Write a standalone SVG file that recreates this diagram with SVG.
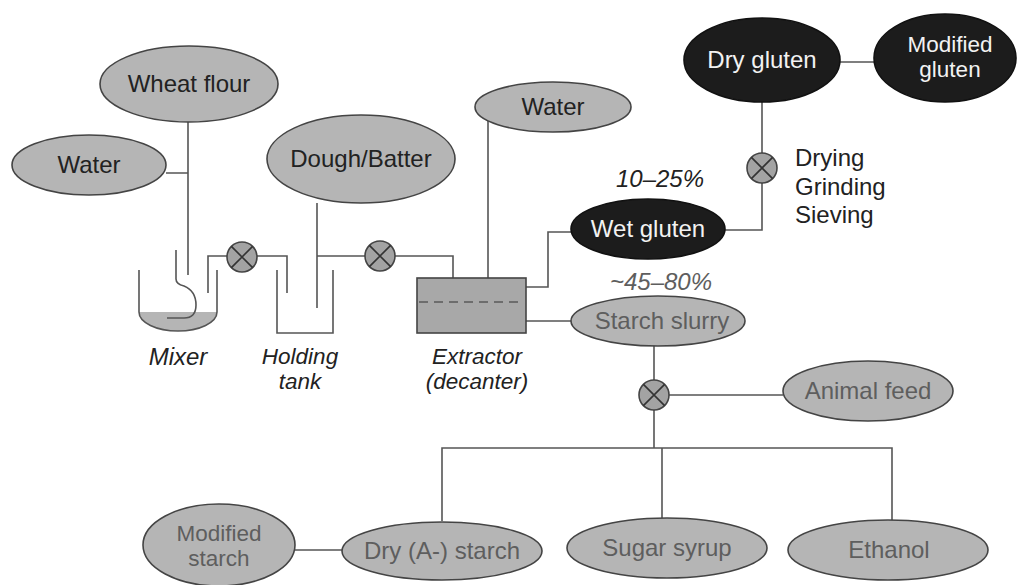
<svg xmlns="http://www.w3.org/2000/svg" width="1017" height="585" viewBox="0 0 1017 585">
<style>
.n{fill:#b5b5b5;stroke:#444;stroke-width:1.6}
.d{fill:#1c1c1c;stroke:#111;stroke-width:1.6}
.t{font-family:"Liberation Sans",Arial,sans-serif;font-size:24px;text-anchor:middle;fill:#222}
.s{font-size:22.5px}
.g{fill:#5e5e5e}
.w{fill:#f2f2f2}
.i{font-style:italic}
.l{text-anchor:start}
.c{fill:none;stroke:#555;stroke-width:1.6}
.v{fill:#a3a3a3;stroke:#444;stroke-width:1.6}
.x{stroke:#333;stroke-width:1.6}
</style>
<defs>
<g id="valve"><circle class="v" r="15"/><path class="x" d="M-10.6,-10.6L10.6,10.6M10.6,-10.6L-10.6,10.6"/></g>
</defs>
<rect width="1017" height="585" fill="#fff"/>
<g id="connectors">
<path class="c" d="M188,122V275M166,173H188"/>
<path class="c" d="M208,293V256H227M257,256H287V293"/>
<path class="c" d="M317,203V308M317,256H365M395,256H453V278"/>
<path class="c" d="M488,121V278"/>
<path class="c" d="M526,287H548V232H571"/>
<path class="c" d="M526,321H571"/>
<path class="c" d="M725,230H762V183M762,153V102"/>
<path class="c" d="M840,62H875"/>
<path class="c" d="M654,345V380M654,410V448M669,395H783"/>
<path class="c" d="M442,521V448H892V520M662,448V518"/>
<path class="c" d="M295,550H342"/>
</g>
<g id="mixer">
<path d="M139,312H217A39,19 0 0 1 139,312Z" fill="#b5b5b5"/>
<path class="c" d="M139,270V312A39,19 0 0 0 217,312V270"/>
<path class="c" d="M176,250V279Q176,284 184,286Q196,291 196,305Q196,318 184,318H167"/>
<text class="t i" x="178" y="365">Mixer</text>
</g>
<g id="holding-tank">
<path class="c" d="M277,270V333H333V270"/>
<text class="t s i" x="300" y="364">Holding</text>
<text class="t s i" x="300" y="389">tank</text>
</g>
<g id="extractor">
<rect x="417" y="278" width="109" height="55" fill="#a8a8a8" stroke="#444" stroke-width="1.6"/>
<path d="M419,302H524" stroke="#5a5a5a" stroke-width="1.6" stroke-dasharray="9,6"/>
<text class="t s i" x="477" y="364">Extractor</text>
<text class="t s i" x="477" y="389">(decanter)</text>
</g>
<g id="valve1"><use href="#valve" x="242" y="257"/></g>
<g id="valve2"><use href="#valve" x="380" y="256"/></g>
<g id="valve3"><use href="#valve" x="762" y="168"/></g>
<g id="valve4"><use href="#valve" x="654" y="395"/></g>
<g id="wheat-flour"><ellipse class="n" cx="189" cy="84" rx="89" ry="38"/><text class="t" x="189" y="92">Wheat flour</text></g>
<g id="water-left"><ellipse class="n" cx="89" cy="165" rx="77" ry="30"/><text class="t" x="89" y="173">Water</text></g>
<g id="dough-batter"><ellipse class="n" cx="361" cy="159" rx="94" ry="44"/><text class="t" x="361" y="167">Dough/Batter</text></g>
<g id="water-top"><ellipse class="n" cx="553" cy="107" rx="78" ry="25"/><text class="t" x="553" y="115">Water</text></g>
<g id="wet-gluten"><ellipse class="d" cx="648" cy="229" rx="77" ry="30"/><text class="t w" x="648" y="237">Wet gluten</text>
<text class="t i" x="660" y="187">10–25%</text></g>
<g id="dry-gluten"><ellipse class="d" cx="762" cy="60" rx="78" ry="42"/><text class="t w" x="762" y="68">Dry gluten</text></g>
<g id="modified-gluten"><ellipse class="d" cx="945" cy="58" rx="71" ry="44"/><text class="t s w" x="950" y="52">Modified</text><text class="t s w" x="950" y="77">gluten</text></g>
<g id="process-label"><text class="t l" x="795" y="166">Drying</text><text class="t l" x="795" y="195">Grinding</text><text class="t l" x="795" y="223">Sieving</text></g>
<g id="starch-slurry"><ellipse class="n" cx="658" cy="321" rx="87" ry="25"/><text class="t g" x="662" y="329">Starch slurry</text>
<text class="t i g" x="661" y="290">~45–80%</text></g>
<g id="animal-feed"><ellipse class="n" cx="868" cy="391" rx="85" ry="30"/><text class="t g" x="868" y="399">Animal feed</text></g>
<g id="modified-starch"><ellipse class="n" cx="219" cy="545" rx="76" ry="41"/><text class="t s g" x="219" y="541">Modified</text><text class="t s g" x="219" y="566">starch</text></g>
<g id="dry-a-starch"><ellipse class="n" cx="442" cy="551" rx="100" ry="29"/><text class="t g" x="442" y="559">Dry (A-) starch</text></g>
<g id="sugar-syrup"><ellipse class="n" cx="667" cy="548" rx="100" ry="30"/><text class="t g" x="667" y="556">Sugar syrup</text></g>
<g id="ethanol"><ellipse class="n" cx="888" cy="550" rx="100" ry="30"/><text class="t g" x="889" y="558">Ethanol</text></g>
</svg>
